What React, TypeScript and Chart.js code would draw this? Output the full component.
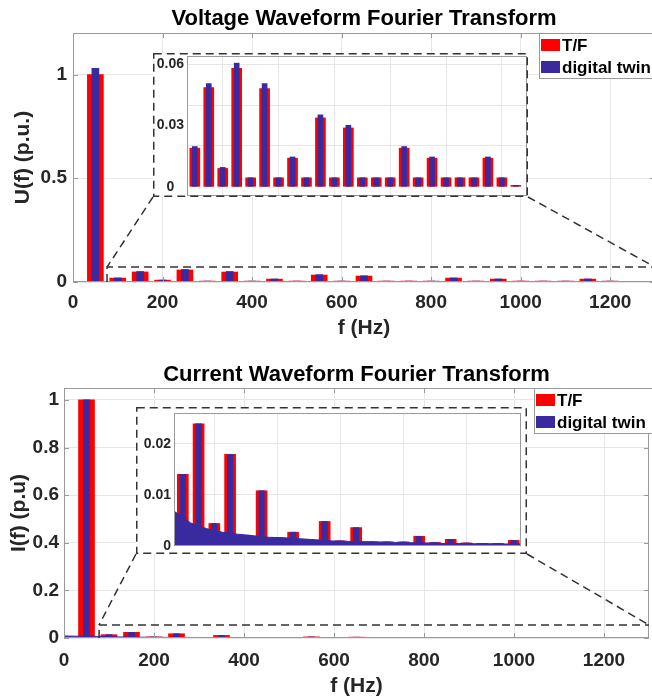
import React, { useEffect, useRef } from 'react';
import { Chart, registerables } from 'chart.js';

Chart.register(...registerables);

// Voltage spectrum: 50 Hz fundamental and its harmonics, magnitudes in p.u.
const voltageFreq = [50, 100, 150, 200, 250, 300, 350, 400, 450, 500, 550, 600, 650, 700, 750, 800, 850, 900, 950, 1000, 1050, 1100, 1150, 1200, 1250];
const voltageTF = [1.0, 0.0189, 0.0485, 0.009, 0.058, 0.0044, 0.048, 0.0044, 0.014, 0.0044, 0.0337, 0.0044, 0.0288, 0.0044, 0.0044, 0.0044, 0.0189, 0.0044, 0.014, 0.0044, 0.0044, 0.0044, 0.014, 0.0044, 0.0007];
const voltageTwin = [1.03, 0.0197, 0.0505, 0.0095, 0.0605, 0.0044, 0.0505, 0.0044, 0.0146, 0.0044, 0.0352, 0.0044, 0.0301, 0.0044, 0.0044, 0.0044, 0.0197, 0.0044, 0.0146, 0.0044, 0.0044, 0.0044, 0.0146, 0.0044, 0.0007];

// Current spectrum
const currentFreq = [50, 100, 150, 200, 250, 300, 350, 400, 450, 500, 550, 600, 650, 700, 750, 800, 850, 900, 950, 1000, 1050, 1100, 1150];
const currentTF = [1.0, 0.014, 0.0239, 0.0044, 0.0179, 0.0021, 0.0108, 0.0016, 0.0027, 0.0012, 0.0048, 0.001, 0.0036, 0.0008, 0.0008, 0.0008, 0.0019, 0.0007, 0.0013, 0.0006, 0.0005, 0.0005, 0.0011];
const currentTwin = [1.0, 0.014, 0.0239, 0.0044, 0.0179, 0.0021, 0.0108, 0.0016, 0.0027, 0.0012, 0.0048, 0.001, 0.0036, 0.0008, 0.0008, 0.0008, 0.0019, 0.0007, 0.0013, 0.0006, 0.0005, 0.0005, 0.0011];

// Broadband floor of the digital-twin current spectrum
const currentFloorFreq = [0, 25, 72, 100, 125, 175, 225, 275, 325, 375, 425, 475, 525, 575, 625, 675, 725, 775, 825, 875, 925, 975, 1025, 1075, 1125, 1175, 1300];
const currentFloor = [0.0085, 0.0078, 0.0068, 0.0057, 0.0045, 0.0034, 0.0027, 0.0023, 0.002, 0.0017, 0.0016, 0.0014, 0.0012, 0.001, 0.0009, 0.00085, 0.0008, 0.0007, 0.00065, 0.0006, 0.0005, 0.0005, 0.00045, 0.00045, 0.0004, 0.0004, 0.0003];

// Tick values
const freqTicks = [0, 200, 400, 600, 800, 1000, 1200];
const voltageTicks = [0, 0.5, 1];
const currentTicks = [0, 0.2, 0.4, 0.6, 0.8, 1];
const voltageInsetLabels = [0, 0.03, 0.06];
const voltageInsetGrid = [0.02, 0.04, 0.06];
const currentInsetLabels = [0, 0.01, 0.02];
const currentInsetGrid = [0.01, 0.02];

const FONT = '"Liberation Sans", Arial, Helvetica, sans-serif';
const RED = '#ff0000';
const BLUE = '#3a2aa0';
const GRID = '#e6e6e6';
const AXIS = '#9a9a9a';
const INK = '#262626';
const DASH = '#333333';

type Area = { left: number; top: number; right: number; bottom: number };

interface InsetSpec {
  x: number; y: number; w: number; h: number;
  area: Area;
  xMin: number; xMax: number; yMin: number; yMax: number;
  labels: number[]; grid: number[];
  align: 'near' | 'center';
  pad: number;
  bar: { tf: number; twin: number };
}

interface PanelSpec {
  top: number; width: number; height: number; area: Area;
  title: string; titleBaseline: number;
  yLabel: string; yMax: number; yTicks: number[];
  yTitlePad: number; yTickPad: number; xTickPad: number; xTitlePad: number;
  freq: number[]; tf: number[]; twin: number[];
  floorFreq?: number[]; floor?: number[];
  bar: { tf: number; twin: number };
  zoom: { fMin: number; yMax: number };
  legend: { w: number; h: number };
  inset: InsetSpec;
}

const voltagePanel: PanelSpec = {
  top: 0, width: 656, height: 345,
  area: { left: 73, top: 33, right: 655, bottom: 282 },
  title: 'Voltage Waveform Fourier Transform', titleBaseline: 25,
  yLabel: 'U(f) (p.u.)', yMax: 1.2, yTicks: voltageTicks,
  yTitlePad: 11, yTickPad: 6, xTickPad: 9, xTitlePad: 4,
  freq: voltageFreq, tf: voltageTF, twin: voltageTwin,
  bar: { tf: 16, twin: 7 },
  zoom: { fMin: 76, yMax: 0.072 },
  legend: { w: 116, h: 45 },
  inset: {
    x: 153, y: 53, w: 375, h: 144,
    area: { left: 34, top: 3, right: 374, bottom: 143 },
    xMin: 72, xMax: 1290, yMin: -0.0045, yMax: 0.064,
    labels: voltageInsetLabels, grid: voltageInsetGrid,
    align: 'center', pad: 3,
    bar: { tf: 10, twin: 5 },
  },
};

const currentPanel: PanelSpec = {
  top: 345, width: 652, height: 355,
  area: { left: 64, top: 43, right: 649, bottom: 293 },
  title: 'Current Waveform Fourier Transform', titleBaseline: 36,
  yLabel: 'I(f) (p.u)', yMax: 1.05, yTicks: currentTicks,
  yTitlePad: 7, yTickPad: 5, xTickPad: 11, xTitlePad: 1,
  freq: currentFreq, tf: currentTF, twin: currentTwin,
  floorFreq: currentFloorFreq, floor: currentFloor,
  bar: { tf: 16, twin: 6 },
  zoom: { fMin: 78, yMax: 0.055 },
  legend: { w: 115, h: 45 },
  inset: {
    x: 136, y: 62, w: 391, h: 147,
    area: { left: 38, top: 6, right: 385, bottom: 139 },
    xMin: 72, xMax: 1173, yMin: 0, yMax: 0.026,
    labels: currentInsetLabels, grid: currentInsetGrid,
    align: 'near', pad: 3,
    bar: { tf: 11, twin: 5.5 },
  },
};

const pts = (xs: number[], ys: number[]) => xs.map((x, i) => ({ x, y: ys[i] }));

const zeroPad = (s: any) => {
  s.paddingTop = 0; s.paddingBottom = 0; s.paddingLeft = 0; s.paddingRight = 0;
};

function buildDatasets(p: PanelSpec, bar: { tf: number; twin: number }) {
  const ds: any[] = [
    { type: 'bar', label: 'T/F', data: pts(p.freq, p.tf), backgroundColor: RED, barThickness: bar.tf, grouped: false, order: 2 },
    { type: 'bar', label: 'digital twin', data: pts(p.freq, p.twin), backgroundColor: BLUE, barThickness: bar.twin, grouped: false, order: 0 },
  ];
  if (p.floorFreq && p.floor) {
    ds.push({
      type: 'line', label: 'digital twin', data: pts(p.floorFreq, p.floor),
      borderColor: BLUE, borderWidth: 1, backgroundColor: BLUE, fill: 'origin',
      pointRadius: 0, tension: 0, order: 1,
    });
  }
  return ds;
}

function line(ctx: CanvasRenderingContext2D, x1: number, y1: number, x2: number, y2: number) {
  ctx.beginPath(); ctx.moveTo(x1, y1); ctx.lineTo(x2, y2); ctx.stroke();
}

function mainDecor(p: PanelSpec) {
  return {
    id: 'panelDecor',
    afterDraw(chart: any) {
      const { ctx, chartArea: a, scales } = chart;
      const xs = scales.x, ys = scales.y;
      ctx.save();
      // axes box
      ctx.strokeStyle = AXIS; ctx.lineWidth = 1; ctx.setLineDash([]);
      ctx.strokeRect(a.left + 0.5, a.top + 0.5, a.right - a.left - 1, a.bottom - a.top - 1);
      // inward tick marks
      for (const t of xs.ticks) {
        const px = Math.round(xs.getPixelForValue(t.value)) + 0.5;
        line(ctx, px, a.bottom, px, a.bottom - 5);
        line(ctx, px, a.top, px, a.top + 5);
      }
      for (const t of ys.ticks) {
        const py = Math.round(ys.getPixelForValue(t.value)) + 0.5;
        line(ctx, a.left, py, a.left + 5, py);
        line(ctx, a.right, py, a.right - 5, py);
      }
      // title
      ctx.font = `bold 22px ${FONT}`;
      ctx.fillStyle = '#000'; ctx.textAlign = 'center'; ctx.textBaseline = 'alphabetic';
      ctx.fillText(p.title, (a.left + a.right) / 2, p.titleBaseline);
      // zoom window and connectors to the inset
      const zx = xs.getPixelForValue(p.zoom.fMin);
      const zy = ys.getPixelForValue(p.zoom.yMax);
      ctx.setLineDash([8, 5]); ctx.lineWidth = 1.5; ctx.strokeStyle = DASH;
      ctx.beginPath(); ctx.moveTo(zx, a.bottom); ctx.lineTo(zx, zy); ctx.lineTo(a.right, zy); ctx.stroke();
      const ib = p.inset.y + p.inset.h;
      line(ctx, p.inset.x, ib, zx, zy);
      line(ctx, p.inset.x + p.inset.w, ib, a.right, zy);
      // legend
      ctx.setLineDash([]);
      const items = chart.data.datasets.filter((d: any) => d.type === 'bar');
      const lx = a.right - p.legend.w, ly = a.top;
      ctx.fillStyle = '#fff'; ctx.fillRect(lx, ly, p.legend.w + 6, p.legend.h);
      ctx.strokeStyle = AXIS; ctx.lineWidth = 1;
      ctx.strokeRect(lx + 0.5, ly + 0.5, p.legend.w + 6, p.legend.h);
      ctx.font = `bold 17px ${FONT}`; ctx.textAlign = 'left'; ctx.textBaseline = 'middle';
      items.forEach((d: any, i: number) => {
        const cy = ly + 12 + i * 22;
        ctx.fillStyle = d.backgroundColor; ctx.fillRect(lx + 2, cy - 6, 19, 12);
        ctx.fillStyle = '#000'; ctx.fillText(d.label, lx + 23, cy + 1);
      });
      ctx.restore();
    },
  };
}

function insetDecor(s: InsetSpec) {
  return {
    id: 'insetDecor',
    beforeDraw(chart: any) {
      const { ctx } = chart;
      ctx.save(); ctx.fillStyle = '#fff'; ctx.fillRect(0, 0, s.w, s.h); ctx.restore();
    },
    afterDraw(chart: any) {
      const { ctx, chartArea: a } = chart;
      ctx.save();
      ctx.strokeStyle = AXIS; ctx.lineWidth = 1;
      ctx.strokeRect(a.left + 0.5, a.top + 0.5, a.right - a.left - 1, a.bottom - a.top - 1);
      ctx.setLineDash([8, 5]); ctx.lineWidth = 1.5; ctx.strokeStyle = DASH;
      ctx.strokeRect(0.75, 0.75, s.w - 1.5, s.h - 1.5);
      ctx.restore();
    },
  };
}

const tickFont = { family: FONT, size: 19, weight: 'bold' as const };
const titleFont = { family: FONT, size: 21, weight: 'bold' as const };

function mainConfig(p: PanelSpec): any {
  return {
    type: 'bar',
    data: { datasets: buildDatasets(p, p.bar) },
    options: {
      animation: false, responsive: false, devicePixelRatio: 1,
      layout: { padding: { top: p.area.top, right: p.width - p.area.right, bottom: 0, left: 0 } },
      plugins: { legend: { display: false }, tooltip: { enabled: false }, title: { display: false } },
      scales: {
        x: {
          type: 'linear', min: 0, max: 1300, offset: false,
          afterBuildTicks: (s: any) => { s.ticks = freqTicks.map((v) => ({ value: v })); },
          afterFit: (s: any) => { s.height = p.height - p.area.bottom; zeroPad(s); },
          grid: { color: GRID, drawTicks: false, offset: false },
          border: { display: false },
          ticks: { font: tickFont, color: INK, padding: p.xTickPad, maxRotation: 0, autoSkip: false, callback: (v: number) => String(v) },
          title: { display: true, text: 'f (Hz)', font: titleFont, color: INK, padding: { top: 0, bottom: p.xTitlePad } },
        },
        y: {
          type: 'linear', min: 0, max: p.yMax,
          afterBuildTicks: (s: any) => { s.ticks = p.yTicks.map((v) => ({ value: v })); },
          afterFit: (s: any) => { s.width = p.area.left; zeroPad(s); },
          grid: { color: GRID, drawTicks: false },
          border: { display: false },
          ticks: { font: tickFont, color: INK, padding: p.yTickPad, callback: (v: number) => String(v) },
          title: { display: true, text: p.yLabel, font: titleFont, color: INK, padding: { top: p.yTitlePad, bottom: 0 } },
        },
      },
    },
    plugins: [mainDecor(p)],
  };
}

function insetConfig(p: PanelSpec): any {
  const s = p.inset;
  const yValues = Array.from(new Set([...s.labels, ...s.grid])).sort((a, b) => a - b);
  return {
    type: 'bar',
    data: { datasets: buildDatasets(p, s.bar) },
    options: {
      animation: false, responsive: false, devicePixelRatio: 1,
      layout: { padding: { top: s.area.top, right: s.w - s.area.right, bottom: 0, left: 0 } },
      plugins: { legend: { display: false }, tooltip: { enabled: false }, title: { display: false } },
      scales: {
        x: {
          type: 'linear', min: s.xMin, max: s.xMax, offset: false,
          afterBuildTicks: (sc: any) => {
            sc.ticks = freqTicks.filter((v) => v > s.xMin && v < s.xMax).map((v) => ({ value: v }));
          },
          afterFit: (sc: any) => { sc.height = s.h - s.area.bottom; zeroPad(sc); },
          grid: { color: GRID, drawTicks: false, offset: false },
          border: { display: false },
          ticks: { display: false },
        },
        y: {
          type: 'linear', min: s.yMin, max: s.yMax,
          afterBuildTicks: (sc: any) => { sc.ticks = yValues.map((v) => ({ value: v })); },
          afterFit: (sc: any) => { sc.width = s.area.left; zeroPad(sc); },
          grid: {
            drawTicks: false,
            color: (c: any) => (c.tick && s.grid.includes(c.tick.value) ? GRID : 'rgba(0,0,0,0)'),
          },
          border: { display: false },
          ticks: {
            font: { family: FONT, size: 14, weight: 'bold' }, color: INK,
            padding: s.pad, crossAlign: s.align,
            callback: (v: number) => (s.labels.includes(v) ? String(v) : ''),
          },
        },
      },
    },
    plugins: [insetDecor(s)],
  };
}

function Panel({ spec }: { spec: PanelSpec }) {
  const mainRef = useRef<HTMLCanvasElement>(null);
  const insetRef = useRef<HTMLCanvasElement>(null);
  useEffect(() => {
    const main = new Chart(mainRef.current as HTMLCanvasElement, mainConfig(spec));
    const inset = new Chart(insetRef.current as HTMLCanvasElement, insetConfig(spec));
    return () => { main.destroy(); inset.destroy(); };
  }, [spec]);
  const s = spec.inset;
  return (
    <div style={{ position: 'absolute', left: 0, top: spec.top, width: spec.width, height: spec.height }}>
      <canvas
        ref={mainRef}
        width={spec.width}
        height={spec.height}
        style={{ position: 'absolute', left: 0, top: 0, width: spec.width, height: spec.height }}
      />
      <canvas
        ref={insetRef}
        width={s.w}
        height={s.h}
        style={{ position: 'absolute', left: s.x, top: s.y, width: s.w, height: s.h }}
      />
    </div>
  );
}

export default function App() {
  return (
    <div style={{ position: 'absolute', left: 0, top: 0, width: 652, height: 700, overflow: 'hidden', background: '#fff' }}>
      <Panel spec={voltagePanel} />
      <Panel spec={currentPanel} />
    </div>
  );
}
